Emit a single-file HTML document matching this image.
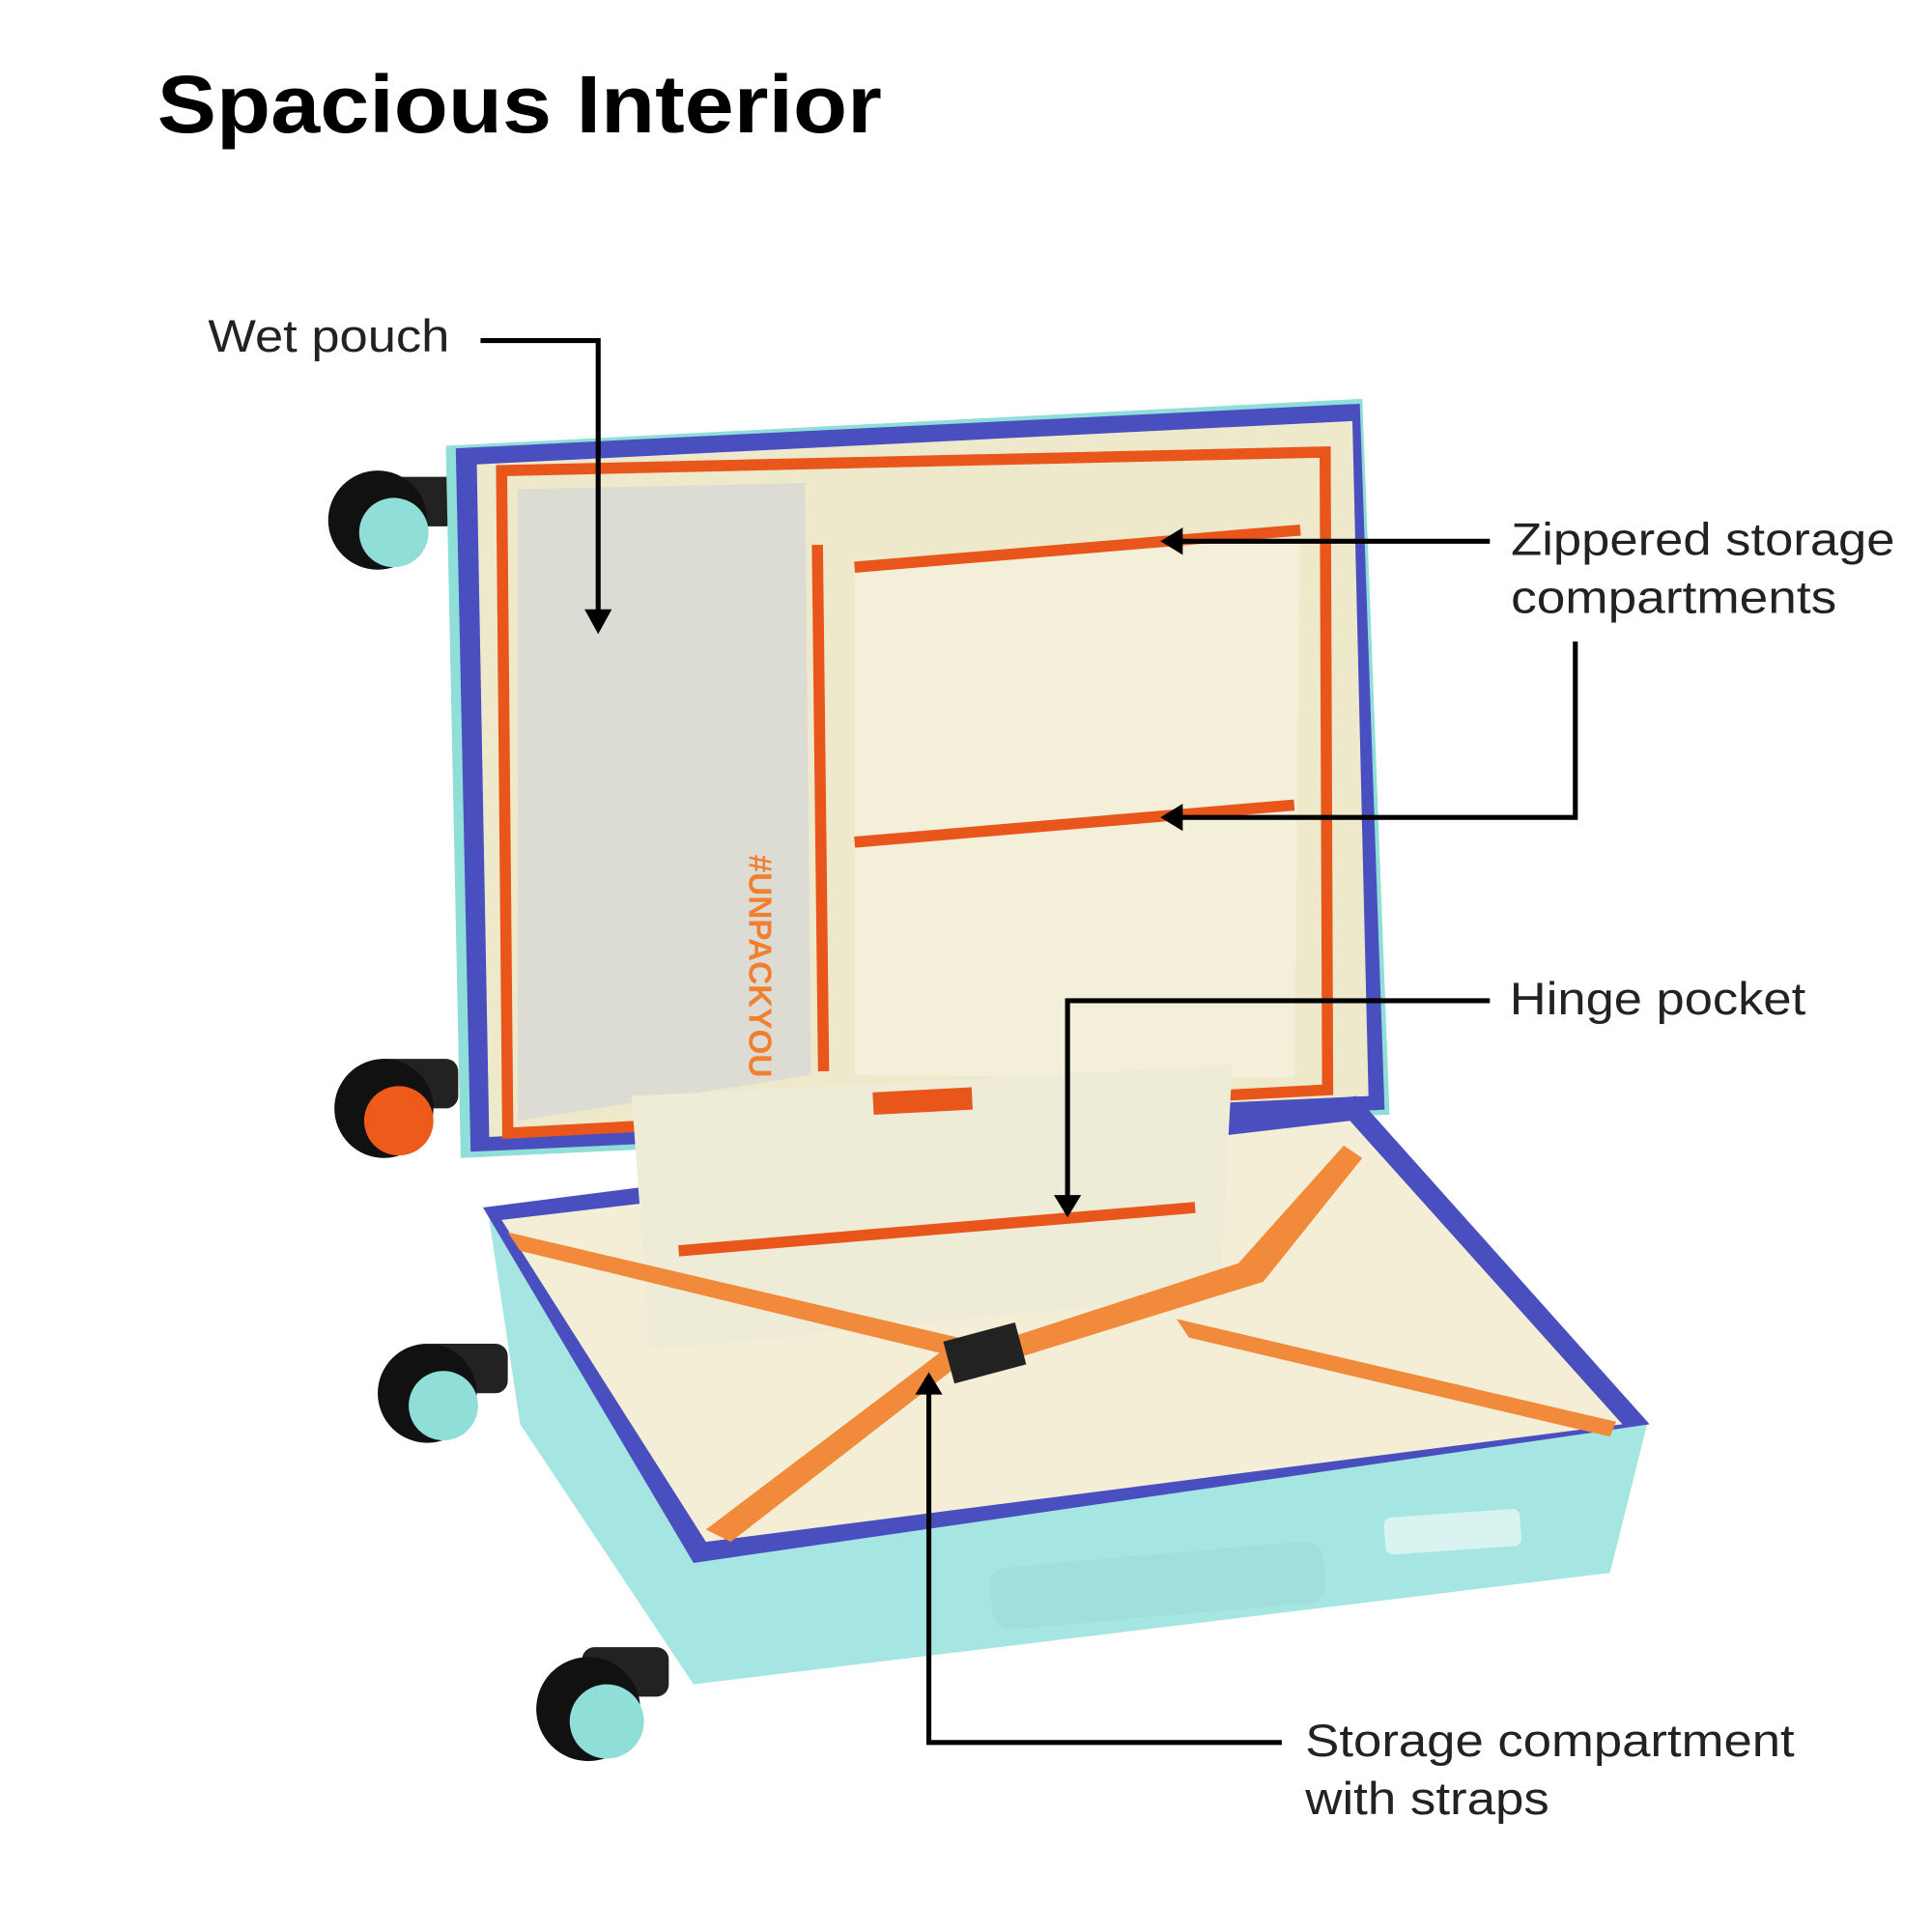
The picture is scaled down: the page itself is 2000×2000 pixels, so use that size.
<!DOCTYPE html>
<html><head><meta charset="utf-8"><style>
html,body{margin:0;padding:0;background:#fff;}
svg{display:block}
text{font-family:"Liberation Sans",Arial,sans-serif;}
</style></head><body>
<svg width="2000" height="2000" viewBox="0 0 1560 1560" xmlns="http://www.w3.org/2000/svg">
<rect width="1560" height="1560" fill="#fff"/>
<text x="127" y="107" font-size="66" font-weight="bold" fill="#000" textLength="585" lengthAdjust="spacingAndGlyphs">Spacious Interior</text>

<g>
<rect x="300" y="385" width="70" height="40" rx="10" fill="#222"/>
<circle cx="305" cy="420" r="40" fill="#111"/>
<circle cx="318" cy="430" r="28" fill="#8fded8"/>
<rect x="300" y="855" width="70" height="40" rx="10" fill="#222"/>
<circle cx="310" cy="895" r="40" fill="#111"/>
<circle cx="322" cy="905" r="28" fill="#ee5a1a"/>
<rect x="340" y="1085" width="70" height="40" rx="10" fill="#222"/>
<circle cx="345" cy="1125" r="40" fill="#111"/>
<circle cx="358" cy="1135" r="28" fill="#8fded8"/>
<rect x="470" y="1330" width="70" height="40" rx="10" fill="#222"/>
<circle cx="475" cy="1380" r="42" fill="#111"/>
<circle cx="490" cy="1390" r="30" fill="#8fded8"/>
</g>

<polygon points="360,360 1100,322 1122,900 372,935" fill="#8fded8"/>
<polygon points="368,362 1098,326 1118,896 380,930" fill="#4a4fbf"/>
<polygon points="385,375 1092,340 1105,885 395,918" fill="#efe9cc"/>
<polygon points="405,380 1070,365 1072,880 410,915" fill="none" stroke="#e8561c" stroke-width="9"/>
<polygon points="418,395 650,390 655,868 418,905" fill="#dcdcd4"/>
<text x="605" y="690" font-size="26" font-weight="bold" fill="#f08030" transform="rotate(90 605 690)">#UNPACKYOU</text>
<line x1="660" y1="440" x2="665" y2="865" stroke="#e8561c" stroke-width="9"/>
<polygon points="690,455 1050,428 1045,870 690,868" fill="#f3efd8"/>
<line x1="690" y1="458" x2="1050" y2="428" stroke="#e8561c" stroke-width="9"/>
<line x1="690" y1="680" x2="1045" y2="650" stroke="#e8561c" stroke-width="9"/>

<polygon points="395,985 1090,895 1330,1150 1300,1270 560,1360 420,1150" fill="#a6e6e2"/>
<polygon points="390,975 1095,885 1332,1150 560,1262" fill="#4a4fbf"/>
<polygon points="405,985 1090,905 1310,1150 570,1245" fill="#f3eed5"/>
<rect x="800" y="1255" width="270" height="50" rx="14" fill="#9fe0dc" transform="rotate(-5 935 1280)"/>
<rect x="1118" y="1222" width="110" height="30" rx="6" fill="#d9f3f1" transform="rotate(-4 1170 1237)"/>
<polygon points="510,885 995,860 985,1045 525,1090" fill="#eeecd6"/>
<rect x="705" y="880" width="80" height="18" fill="#e8561c" transform="rotate(-3 745 889)"/>
<line x1="548" y1="1010" x2="965" y2="975" stroke="#e8561c" stroke-width="9"/>
<polygon points="410,995 420,1010 790,1100 795,1085" fill="#f28a3b"/>
<polygon points="570,1235 590,1245 790,1090 775,1080" fill="#f28a3b"/>
<polygon points="800,1085 810,1100 1020,1035 1100,935 1085,925 1000,1020" fill="#f28a3b"/>
<polygon points="950,1065 960,1080 1300,1160 1305,1148" fill="#f28a3b"/>
<rect x="765" y="1075" width="60" height="35" fill="#222" transform="rotate(-15 795 1092)"/>

<g stroke="#000" stroke-width="4" fill="none">
<polyline points="388,275 483,275 483,505"/>
<line x1="950" y1="437" x2="1203" y2="437"/>
<polyline points="1272,518 1272,660 950,660"/>
<polyline points="1203,808 862,808 862,975"/>
<polyline points="750,1115 750,1407 1035,1407"/>
</g>
<g fill="#000">
<polygon points="472,492 494,492 483,512"/>
<polygon points="937,437 955,426 955,448"/>
<polygon points="937,660 955,649 955,671"/>
<polygon points="851,965 873,965 862,983"/>
<polygon points="750,1108 739,1126 761,1126"/>
</g>
<g font-size="37" fill="#222">
<text x="168" y="284" textLength="195" lengthAdjust="spacingAndGlyphs">Wet pouch</text>
<text x="1220" y="448" textLength="310" lengthAdjust="spacingAndGlyphs">Zippered storage</text>
<text x="1220" y="495" textLength="263" lengthAdjust="spacingAndGlyphs">compartments</text>
<text x="1219" y="819" textLength="239" lengthAdjust="spacingAndGlyphs">Hinge pocket</text>
<text x="1054" y="1418" textLength="395" lengthAdjust="spacingAndGlyphs">Storage compartment</text>
<text x="1054" y="1465" textLength="197" lengthAdjust="spacingAndGlyphs">with straps</text>
</g>
</svg>
</body></html>
